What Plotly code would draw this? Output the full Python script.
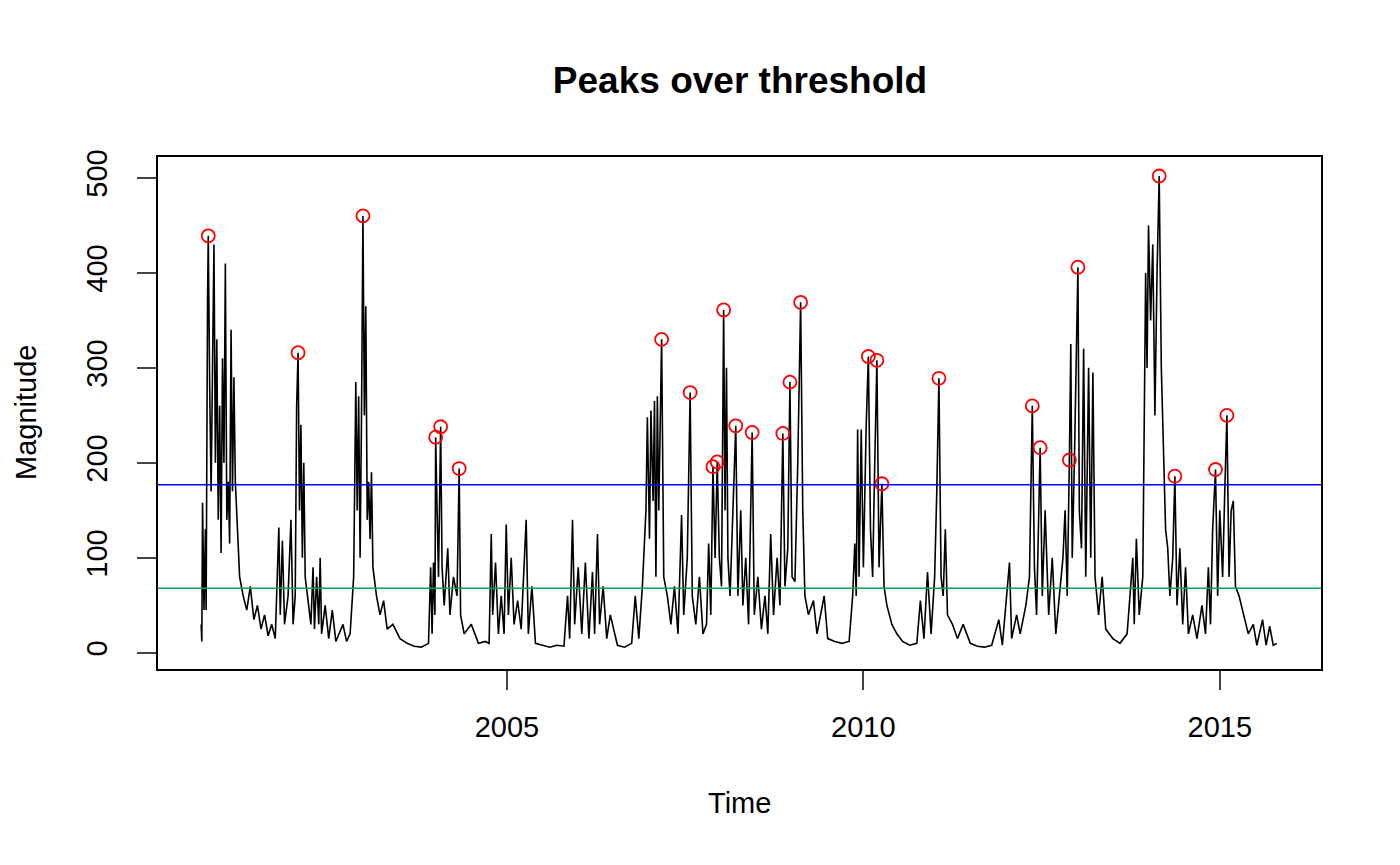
import plotly.graph_objects as go

t = [2000.71,2000.72,2000.73,2000.75,2000.77,2000.78,2000.80,2000.81,2000.83,2000.85,2000.87,2000.89,2000.91,2000.93,2000.95,2000.97,2000.99,2001.01,2001.03,2001.05,2001.07,2001.09,2001.11,2001.13,2001.15,2001.17,2001.19,2001.21,2001.25,2001.3,2001.35,2001.4,2001.45,2001.5,2001.55,2001.6,2001.65,2001.7,2001.75,2001.8,2001.82,2001.85,2001.88,2001.93,2001.97,2002.0,2002.03,2002.05,2002.07,2002.09,2002.11,2002.13,2002.15,2002.17,2002.2,2002.25,2002.28,2002.3,2002.33,2002.36,2002.38,2002.4,2002.45,2002.5,2002.55,2002.6,2002.7,2002.75,2002.8,2002.85,2002.88,2002.9,2002.92,2002.94,2002.96,2002.98,2003.0,2003.02,2003.04,2003.06,2003.08,2003.1,2003.12,2003.17,2003.22,2003.27,2003.32,2003.4,2003.5,2003.6,2003.7,2003.8,2003.9,2003.93,2003.95,2003.97,2003.99,2004.0,2004.02,2004.04,2004.07,2004.09,2004.12,2004.17,2004.2,2004.25,2004.3,2004.33,2004.35,2004.4,2004.5,2004.6,2004.7,2004.75,2004.78,2004.8,2004.84,2004.88,2004.92,2004.96,2004.99,2005.02,2005.06,2005.1,2005.15,2005.2,2005.27,2005.3,2005.35,2005.4,2005.5,2005.6,2005.7,2005.8,2005.85,2005.88,2005.92,2005.95,2006.0,2006.05,2006.1,2006.15,2006.2,2006.23,2006.27,2006.3,2006.35,2006.4,2006.45,2006.55,2006.65,2006.75,2006.8,2006.85,2006.9,2006.95,2006.97,2007.0,2007.02,2007.05,2007.07,2007.09,2007.11,2007.13,2007.17,2007.2,2007.25,2007.3,2007.35,2007.4,2007.45,2007.48,2007.53,2007.57,2007.6,2007.65,2007.7,2007.75,2007.8,2007.83,2007.86,2007.89,2007.92,2007.95,2007.98,2008.01,2008.04,2008.06,2008.08,2008.1,2008.13,2008.16,2008.21,2008.24,2008.28,2008.31,2008.35,2008.39,2008.44,2008.47,2008.52,2008.57,2008.62,2008.66,2008.7,2008.74,2008.79,2008.83,2008.87,2008.9,2008.94,2008.97,2009.0,2009.04,2009.08,2009.12,2009.15,2009.18,2009.23,2009.3,2009.35,2009.45,2009.5,2009.6,2009.7,2009.8,2009.85,2009.88,2009.9,2009.92,2009.94,2009.97,2010.0,2010.04,2010.07,2010.1,2010.13,2010.16,2010.19,2010.22,2010.26,2010.29,2010.33,2010.4,2010.47,2010.55,2010.65,2010.75,2010.8,2010.85,2010.9,2010.95,2011.0,2011.03,2011.06,2011.09,2011.12,2011.15,2011.18,2011.25,2011.32,2011.4,2011.5,2011.6,2011.7,2011.8,2011.9,2011.95,2012.05,2012.08,2012.15,2012.2,2012.28,2012.33,2012.37,2012.4,2012.43,2012.48,2012.51,2012.55,2012.6,2012.65,2012.7,2012.75,2012.8,2012.83,2012.86,2012.89,2012.91,2012.93,2012.96,2013.01,2013.03,2013.06,2013.09,2013.12,2013.16,2013.19,2013.22,2013.25,2013.3,2013.35,2013.4,2013.5,2013.6,2013.7,2013.78,2013.8,2013.83,2013.87,2013.92,2013.96,2013.98,2014.0,2014.03,2014.06,2014.09,2014.12,2014.15,2014.18,2014.21,2014.24,2014.27,2014.3,2014.34,2014.37,2014.4,2014.44,2014.48,2014.52,2014.56,2014.62,2014.68,2014.75,2014.8,2014.84,2014.87,2014.9,2014.94,2014.97,2015.0,2015.04,2015.07,2015.1,2015.13,2015.16,2015.19,2015.22,2015.27,2015.33,2015.4,2015.47,2015.52,2015.6,2015.65,2015.7,2015.75,2015.8]
v = [30,12,158,45,130,45,370,439,280,170,300,430,200,330,140,260,105,310,200,410,140,180,115,340,170,290,180,150,80,60,45,70,35,50,25,40,18,30,15,132,40,118,30,60,140,30,60,260,316,150,240,100,200,80,60,30,90,25,80,30,100,20,50,15,45,12,30,12,20,80,285,150,270,100,250,460,250,365,140,180,120,190,90,60,40,55,25,30,15,10,7,6,10,90,20,95,40,227,150,80,238,90,50,110,40,80,60,194,40,20,30,10,12,10,125,40,95,20,60,20,135,40,100,30,55,25,140,20,70,10,8,6,8,7,60,15,140,30,90,20,95,15,85,20,125,30,70,15,40,8,6,10,60,15,70,150,248,120,255,160,265,80,270,150,330,80,60,30,70,20,145,40,100,274,60,30,80,20,30,115,40,196,100,201,100,70,361,150,300,100,60,120,239,60,150,50,100,30,232,40,80,25,60,20,125,40,100,50,231,70,110,285,80,75,200,369,150,60,40,55,20,60,15,12,10,12,60,115,60,235,80,235,90,240,312,130,80,200,308,90,178,70,50,30,20,12,8,10,55,15,85,20,80,170,289,80,60,130,40,30,15,30,10,7,6,8,35,8,95,15,40,20,50,80,260,90,40,216,60,150,40,100,20,60,100,150,60,203,325,100,200,406,150,110,320,80,300,100,295,80,40,80,25,15,10,20,100,30,120,40,80,400,300,450,350,430,250,400,502,300,200,130,110,60,100,186,50,110,30,90,20,40,15,50,20,90,30,130,193,60,150,80,170,250,80,150,160,70,60,40,20,30,8,35,8,28,8,10]

peak_t = [2000.81,2002.07,2002.98,2004.00,2004.07,2004.33,2007.17,2007.57,2007.89,2007.95,2008.04,2008.21,2008.44,2008.87,2008.97,2009.12,2010.07,2010.19,2010.26,2011.06,2012.37,2012.48,2012.89,2013.01,2014.15,2014.37,2014.94,2015.10]
peak_v = [439,316,460,227,238,194,330,274,196,201,361,239,232,231,285,369,312,308,178,289,260,216,203,406,502,186,193,250]

threshold_high = 177
threshold_low = 68

fig = go.Figure()
fig.add_trace(go.Scatter(x=t, y=v, mode="lines", line=dict(color="black", width=1.6)))
fig.add_trace(go.Scatter(x=peak_t, y=peak_v, mode="markers",
                         marker=dict(symbol="circle-open", color="red", size=13, line=dict(width=1.8))))
fig.add_hline(y=threshold_high, line=dict(color="blue", width=1.5))
fig.add_hline(y=threshold_low, line=dict(color="#00A651", width=1.5))

font = "Liberation Sans, Arial, sans-serif"
fig.update_layout(
    width=1400, height=865, showlegend=False,
    plot_bgcolor="white", paper_bgcolor="white",
    margin=dict(l=150, r=87, t=149, b=204, autoexpand=False),
    font=dict(family=font, size=29, color="black"),
    title=dict(text="<b>Peaks over threshold</b>", x=(740-8)/1400, xanchor="center", y=1 - 72/865, yanchor="middle",
               font=dict(size=37)),
    annotations=[
        dict(text="Time", xref="paper", yref="paper", x=0.5, y=-(803-669)/512, yanchor="middle",
             showarrow=False, font=dict(size=29)),
        dict(text="Magnitude", xref="paper", yref="paper", x=-(157-25)/1163, y=0.5, xanchor="center",
             yanchor="middle", textangle=-90, showarrow=False, font=dict(size=29)),
    ],
)
fig.update_xaxes(range=[2000.105, 2016.42], tickvals=[2005, 2010, 2015], ticks="outside", ticklen=19,
                 tickwidth=1.5, ticklabelstandoff=12,
                 showline=True, mirror=True, linecolor="black", linewidth=1.5, showgrid=False, zeroline=False,
                 automargin=False, tickfont=dict(size=29))
fig.update_yaxes(range=[-17, 522], tickvals=[0, 100, 200, 300, 400, 500], ticks="outside", ticklen=19,
                 tickwidth=1.5, ticklabelstandoff=19,
                 tickangle=-90, showline=True, mirror=True, linecolor="black", linewidth=1.5,
                 showgrid=False, zeroline=False, automargin=False, tickfont=dict(size=29))
fig.write_html("out.html")
